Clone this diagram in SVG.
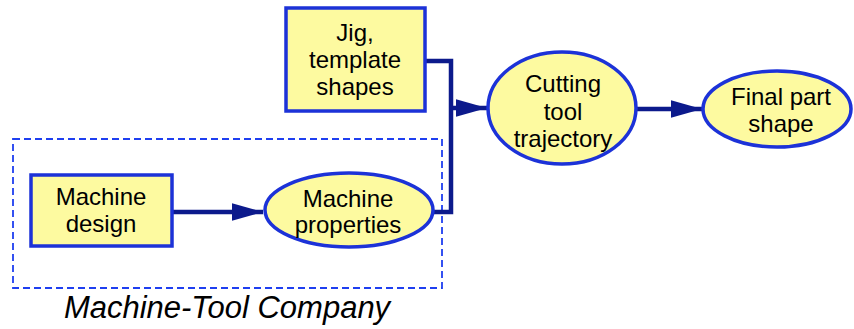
<svg xmlns="http://www.w3.org/2000/svg" width="854" height="329" viewBox="0 0 854 329">
<style>
.n{fill:#fdfaa0;stroke:#1c32d8;stroke-width:3.5}
.t{font-family:"Liberation Sans",Arial,sans-serif;font-size:24px;fill:#000;text-anchor:middle}
.c{fill:none;stroke:#0c1a8c;stroke-width:4.5}
.g{fill:none;stroke:#1f3ff0;stroke-width:1.8;stroke-dasharray:7,4}
</style>
<defs>
<marker id="ah" markerWidth="7" markerHeight="4" refX="7" refY="2" orient="auto" markerUnits="strokeWidth">
<path d="M0,0 L7,2 L0,4 Z" fill="#0c1a8c"/>
</marker>
</defs>
<rect class="g" x="13" y="139" width="429" height="149"/>
<text x="227" y="318" font-family="Liberation Sans,Arial,sans-serif" font-size="31" font-style="italic" text-anchor="middle">Machine-Tool Company</text>
<g id="connectors">
<path class="c" d="M425,61 H451 V212 H433"/>
<path class="c" d="M451,108 H487" marker-end="url(#ah)"/>
<path class="c" d="M172,212 H263" marker-end="url(#ah)"/>
<path class="c" d="M637,109 H702" marker-end="url(#ah)"/>
</g>
<g id="jig">
<rect class="n" x="286" y="8" width="139" height="103"/>
<text class="t" x="355" y="41">Jig,</text>
<text class="t" x="355" y="68">template</text>
<text class="t" x="355" y="95">shapes</text>
</g>
<g id="machine-design">
<rect class="n" x="31" y="175" width="141" height="71"/>
<text class="t" x="101" y="205">Machine</text>
<text class="t" x="101" y="232">design</text>
</g>
<g id="machine-properties">
<ellipse class="n" cx="349" cy="210" rx="84" ry="37"/>
<text class="t" x="348" y="207">Machine</text>
<text class="t" x="348" y="233">properties</text>
</g>
<g id="cutting-tool">
<ellipse class="n" cx="562" cy="108" rx="74" ry="56"/>
<text class="t" x="563" y="92">Cutting</text>
<text class="t" x="563" y="120">tool</text>
<text class="t" x="563" y="147">trajectory</text>
</g>
<g id="final-part">
<ellipse class="n" cx="777" cy="109" rx="74" ry="38"/>
<text class="t" x="781" y="105">Final part</text>
<text class="t" x="781" y="132">shape</text>
</g>
</svg>
